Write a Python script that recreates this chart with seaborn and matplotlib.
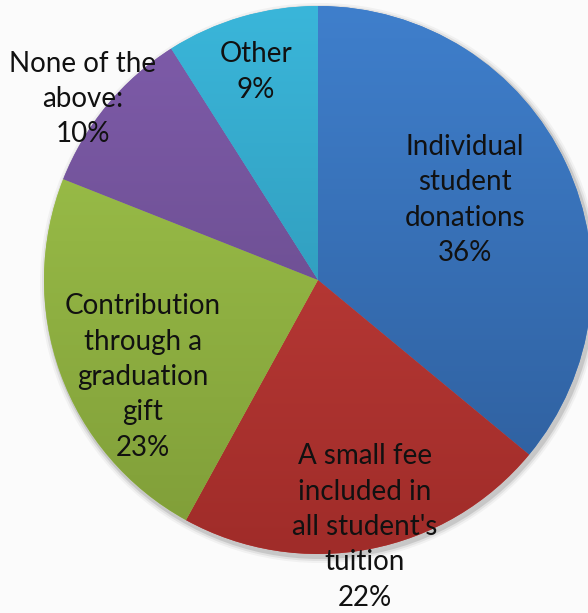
import numpy as np
import matplotlib.pyplot as plt
import matplotlib.colors as mcolors
from matplotlib.patches import Circle
import seaborn as sns

labels = ["Individual\nstudent\ndonations", "A small fee\nincluded in\nall student's\ntuition",
          "Contribution\nthrough a\ngraduation\ngift", "None of the\nabove:", "Other"]
values = [36, 22, 23, 10, 9]
pct_text = ["36%", "22%", "23%", "10%", "9%"]
top_colors = ["#3f7fcc", "#c8423e", "#a2c74d", "#7f5cab", "#3ab6da"]
bottom_colors = ["#2d5c99", "#a02c29", "#7f9d38", "#604680", "#2a8aa7"]

sns.set_theme(style="white")
plt.rcParams['font.family'] = ['Lato', 'DejaVu Sans']

fig = plt.figure(figsize=(5.88, 6.13), dpi=100)
fig.patch.set_facecolor("#fbfbfb")
ax = fig.add_axes([0, 0, 1, 1])

cx, cy, r = 318, 333, 274

# soft shadow
for k, a in zip([6, 4, 2], [0.06, 0.1, 0.18]):
    ax.add_patch(Circle((cx + 2, cy - 3), r + k, color="#555555", alpha=a, lw=0, zorder=0))

wedges, _ = ax.pie(values, colors=top_colors, startangle=90, counterclock=False,
                   center=(cx, cy), radius=r, frame=True,
                   wedgeprops=dict(linewidth=0))
ax.set_xlim(0, 588)
ax.set_ylim(0, 613)
ax.set_aspect("equal")
ax.axis("off")

grad = np.linspace(0, 1, 256).reshape(-1, 1)
for w, c1, c2 in zip(wedges, top_colors, bottom_colors):
    cmap = mcolors.LinearSegmentedColormap.from_list("g", [c1, c2])
    im = ax.imshow(grad, cmap=cmap, aspect="auto",
                   extent=(cx - r, cx + r, cy - r, cy + r), origin="upper", zorder=2)
    im.set_clip_path(w)

# label anchors (pixel layout, y measured from top)
label_pos = [(465, 200), (365, 527), (143, 377), (83, 99), (256, 72)]
for lab, p, (lx, ly) in zip(labels, pct_text, label_pos):
    ax.text(lx, 613 - ly, lab + "\n" + p,
            ha="center", va="center", fontsize=20, color="#111111",
            linespacing=1.45, zorder=5)

fig.savefig("out.png", dpi=100, facecolor=fig.get_facecolor())
